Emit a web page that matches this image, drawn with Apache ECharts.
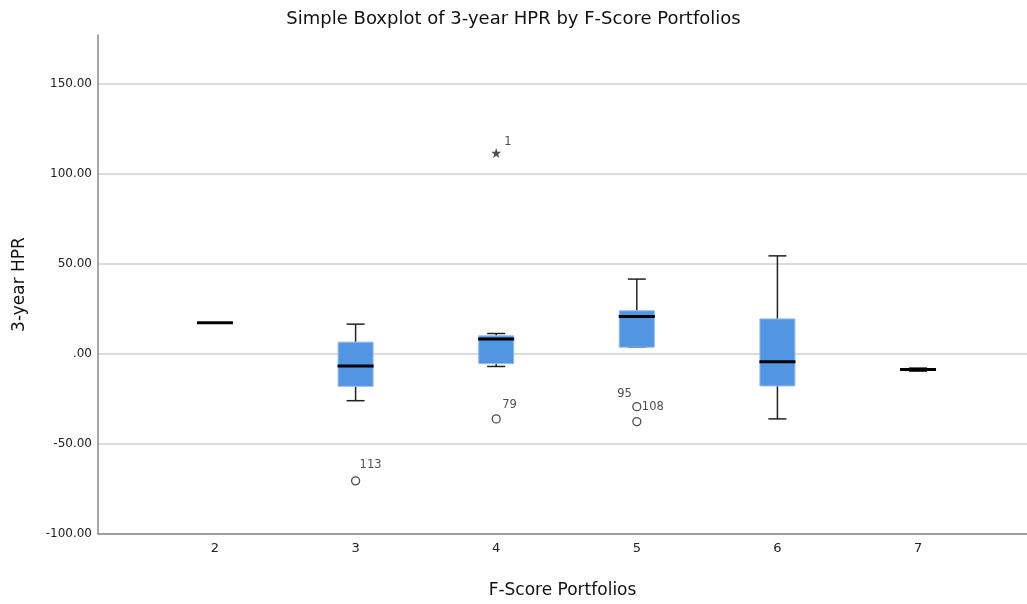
<!DOCTYPE html>
<html>
<head>
<meta charset="utf-8">
<script src="https://cdn.jsdelivr.net/npm/echarts@6/dist/echarts.min.js"></script>
<style>html,body{margin:0;padding:0;background:#fff;}#c{width:1027px;height:604px;}</style>
</head>
<body>
<div id="c"></div>
<script>
// ---- data ----
const categories = ['2', '3', '4', '5', '6', '7'];
const xPositions = [2, 3, 4, 5, 6, 7];
const boxMin    = [17.2, -26.0, -7.0,  3.7, -36.1, -9.6];
const boxQ1     = [17.2, -18.0, -5.4,  3.7, -17.8, -9.2];
const boxMedian = [17.2,  -6.8,  8.2, 20.7,  -4.4, -8.7];
const boxQ3     = [17.2,   6.5, 10.0, 23.9,  19.4, -8.3];
const boxMax    = [17.2,  16.5, 11.3, 41.5,  54.4, -7.9];

const outlierX      = [3, 4, 5, 5];
const outlierY      = [-70.5, -36.1, -29.3, -37.6];
const outlierLabels = ['113', '79', '108', '95'];

const extremeX      = [4];
const extremeY      = [111.5];
const extremeLabels = ['1'];

const yTicks = [-100, -50, 0, 50, 100, 150];

// ---- chart ----
const chart = echarts.init(document.getElementById('c'));
const FONT = 'DejaVu Sans';
const BOX_W = 35, CAP_W = 18, MED_W = 36;
const BOX_FILL = '#5295e3';

const boxData = xPositions.map((x, i) => [x, boxMin[i], boxQ1[i], boxMedian[i], boxQ3[i], boxMax[i]]);

function renderBox(params, api) {
  const x = api.value(0);
  const pMin = api.coord([x, api.value(1)]);
  const pQ1 = api.coord([x, api.value(2)]);
  const pMed = api.coord([x, api.value(3)]);
  const pQ3 = api.coord([x, api.value(4)]);
  const pMax = api.coord([x, api.value(5)]);
  const cx = pMed[0];
  const lineStyle = { stroke: '#222', lineWidth: 1.5 };
  const children = [];
  children.push({ type: 'line', shape: { x1: cx, y1: pMax[1], x2: cx, y2: pQ3[1] }, style: lineStyle });
  children.push({ type: 'line', shape: { x1: cx, y1: pQ1[1], x2: cx, y2: pMin[1] }, style: lineStyle });
  children.push({ type: 'line', shape: { x1: cx - CAP_W / 2, y1: pMax[1], x2: cx + CAP_W / 2, y2: pMax[1] }, style: lineStyle });
  children.push({ type: 'line', shape: { x1: cx - CAP_W / 2, y1: pMin[1], x2: cx + CAP_W / 2, y2: pMin[1] }, style: lineStyle });
  if (pQ1[1] - pQ3[1] > 0.5) {
    children.push({ type: 'rect', shape: { x: cx - BOX_W / 2, y: pQ3[1], width: BOX_W, height: pQ1[1] - pQ3[1] },
      style: { fill: BOX_FILL, stroke: '#8fbaf0', lineWidth: 1 } });
  }
  children.push({ type: 'line', shape: { x1: cx - MED_W / 2, y1: pMed[1], x2: cx + MED_W / 2, y2: pMed[1] },
    style: { stroke: '#000', lineWidth: 3 } });
  return { type: 'group', children };
}

const labelOffsets = { '113': [4, -16], '79': [6, -14], '108': [5, 0], '95': [-5, -28] };
const labelAlign = { '113': 'left', '79': 'left', '108': 'left', '95': 'right' };

const outlierData = outlierX.map((x, i) => ({
  value: [x, outlierY[i]],
  label: {
    show: true, formatter: outlierLabels[i], position: 'inside',
    offset: labelOffsets[outlierLabels[i]], align: labelAlign[outlierLabels[i]],
    color: '#222', fontFamily: FONT, fontSize: 11.5
  }
}));

const extremeData = extremeX.map((x, i) => ({
  value: [x, extremeY[i]],
  label: { show: true, formatter: extremeLabels[i], position: 'inside', offset: [8, -11], align: 'left',
    color: '#222', fontFamily: FONT, fontSize: 11.5 }
}));

const option = {
  animation: false,
  backgroundColor: '#fff',
  title: {
    text: 'Simple Boxplot of 3-year HPR by F-Score Portfolios',
    left: 'center', top: 5,
    textStyle: { fontFamily: FONT, fontSize: 18, fontWeight: 'normal', color: '#111' }
  },
  grid: { left: 98, right: 0, top: 35, bottom: 69, containLabel: false },
  xAxis: {
    type: 'value', min: 1.168, max: 7.775,
    name: 'F-Score Portfolios', nameLocation: 'middle', nameGap: 48,
    nameTextStyle: { fontFamily: FONT, fontSize: 17, color: '#111' },
    axisLine: { show: true, onZero: false, lineStyle: { color: '#8a8a8a', width: 1.5 } },
    axisTick: { show: false },
    splitLine: { show: false },
    axisLabel: {
      customValues: xPositions,
      formatter: v => categories[xPositions.indexOf(Math.round(v))] || '',
      fontFamily: FONT, fontSize: 13, color: '#222', margin: 8
    }
  },
  yAxis: {
    type: 'value', min: -100, max: 177, interval: 50,
    name: '3-year HPR', nameLocation: 'middle', nameGap: 70, nameRotate: 90,
    nameTextStyle: { fontFamily: FONT, fontSize: 17, color: '#111' },
    axisLine: { show: true, lineStyle: { color: '#8a8a8a', width: 1.5 } },
    axisTick: { show: false },
    splitLine: { show: true, showMaxLine: false, lineStyle: { color: '#cfcfcf', width: 1.5 } },
    axisLabel: {
      customValues: yTicks,
      formatter: v => v === 0 ? '.00' : v.toFixed(2),
      fontFamily: FONT, fontSize: 12, color: '#222', margin: 6
    }
  },
  series: [
    { type: 'custom', renderItem: renderBox, data: boxData, encode: { x: 0, y: [1, 2, 3, 4, 5] }, z: 2 },
    { type: 'scatter', data: outlierData, symbol: 'circle', symbolSize: 8,
      itemStyle: { color: '#fff', borderColor: '#222', borderWidth: 1.3 }, z: 3 },
    { type: 'scatter', data: extremeData,
      symbol: 'path://M0,-10 L2.35,-3.24 L9.51,-3.09 L3.8,1.24 L5.88,8.09 L0,4 L-5.88,8.09 L-3.8,1.24 L-9.51,-3.09 L-2.35,-3.24 Z',
      symbolSize: 10, itemStyle: { color: '#222' }, z: 3 }
  ]
};
chart.setOption(option);
</script>
</body>
</html>
